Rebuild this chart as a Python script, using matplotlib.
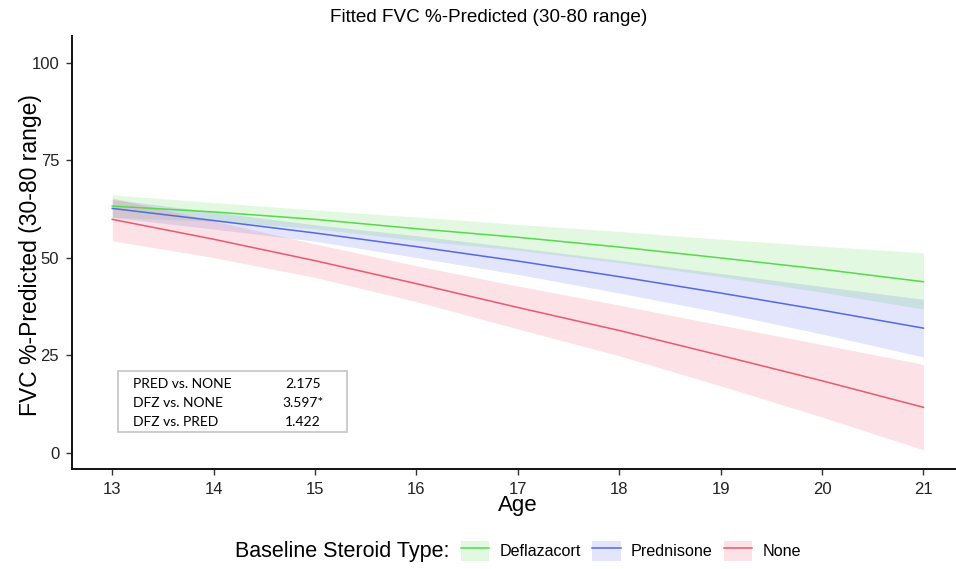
import matplotlib.pyplot as plt
from matplotlib.patches import Patch, Rectangle
from matplotlib.lines import Line2D

plt.rcParams['font.family'] = ['Liberation Sans', 'DejaVu Sans']

# Fitted values, by age
ages = [13, 14, 15, 16, 17, 18, 19, 20, 21]

dfz_fit = [63.3, 61.8, 59.9, 57.5, 55.3, 52.8, 50.0, 47.1, 43.9]
dfz_lo = [60.4, 59.4, 57.5, 54.5, 52.0, 48.8, 45.2, 41.2, 36.9]
dfz_hi = [66.2, 64.2, 62.3, 60.5, 58.6, 56.8, 54.8, 53.0, 51.3]

pred_fit = [62.7, 59.6, 56.4, 52.9, 49.2, 45.2, 41.0, 36.6, 32.0]
pred_lo = [60.4, 57.4, 54.3, 50.1, 45.8, 41.0, 36.0, 30.5, 24.6]
pred_hi = [65.0, 61.8, 58.5, 55.7, 52.6, 49.4, 46.0, 42.7, 39.4]

none_fit = [59.9, 54.8, 49.3, 43.4, 37.3, 31.4, 25.0, 18.5, 11.7]
none_lo = [54.4, 50.1, 45.0, 38.8, 31.8, 24.9, 17.2, 9.2, 0.8]
none_hi = [65.4, 59.5, 53.6, 48.0, 42.8, 37.9, 32.8, 27.8, 22.7]

groups = ['Deflazacort', 'Prednisone', 'None']
colors = ['#55DA4A', '#5468E8', '#EE5570']

comparisons = ['PRED vs. NONE', 'DFZ vs. NONE', 'DFZ vs. PRED']
comp_values = ['2.175', '3.597*', '1.422']

series = [
    (dfz_fit, dfz_lo, dfz_hi),
    (pred_fit, pred_lo, pred_hi),
    (none_fit, none_lo, none_hi),
]

fig = plt.figure(figsize=(9.56, 5.69), dpi=100)
ax = fig.add_axes([0.075, 0.1752, 0.9334, 0.7621])

fill_alpha = 0.17
# ribbons first, then lines (ggplot layer order)
for (fit, lo, hi), c in zip(series, colors):
    ax.fill_between(ages, lo, hi, color=c, alpha=fill_alpha, linewidth=0)
for (fit, lo, hi), c in zip(series, colors):
    ax.plot(ages, fit, color=c, linewidth=1.1)

ax.set_xlim(12.6, 21.4)
ax.set_ylim(-4.2, 107)
ax.set_xticks(ages)
ax.set_yticks([0, 25, 50, 75, 100])

for side in ['top', 'right']:
    ax.spines[side].set_visible(False)
for side in ['left', 'bottom']:
    ax.spines[side].set_linewidth(1.4)
    ax.spines[side].set_color('#111111')
ax.tick_params(length=4, width=1, color='#333333', labelsize=12,
               labelcolor='#222222', pad=5)

ax.set_xlabel('Age', fontsize=16, va='center')
ax.xaxis.set_label_coords(0.5, -0.084)
ax.set_ylabel('FVC %-Predicted (30-80 range)', fontsize=16.5, va='center')
ax.yaxis.set_label_coords(-0.0467, 0.494)
fig.text(489 / 956, 1 - 18 / 569, 'Fitted FVC %-Predicted (30-80 range)',
         ha='center', va='center', fontsize=13.6)

# comparison box
ax.add_patch(Rectangle((13.055, 5.4), 2.261, 15.5, fill=False,
                       edgecolor='#C8C8C8', linewidth=1.3))
row_y = [17.8, 12.9, 8.0]
for label, val, y in zip(comparisons, comp_values, row_y):
    ax.text(13.2, y, label, fontsize=10, family=['Lato', 'DejaVu Sans'],
            va='center', ha='left')
    ax.text(14.88, y, val, fontsize=10, family=['Lato', 'DejaVu Sans'],
            va='center', ha='center')

# legend at bottom, title to the left of the keys
fig.text(235 / 956, 1 - 551 / 569, 'Baseline Steroid Type:', fontsize=15.5,
         ha='left', va='center')
handles = [(Patch(facecolor=c, alpha=fill_alpha, edgecolor='none'),
            Line2D([], [], color=c, linewidth=1.1)) for c in colors]
fig.legend(handles, groups, loc='center left',
           bbox_to_anchor=(461 / 956, 1 - 551 / 569), ncol=3, frameon=False,
           fontsize=11.6, handlelength=1.75, handleheight=1.6,
           handletextpad=0.65, columnspacing=0.7, borderpad=0, borderaxespad=0)

fig.savefig('out.png', dpi=100)
